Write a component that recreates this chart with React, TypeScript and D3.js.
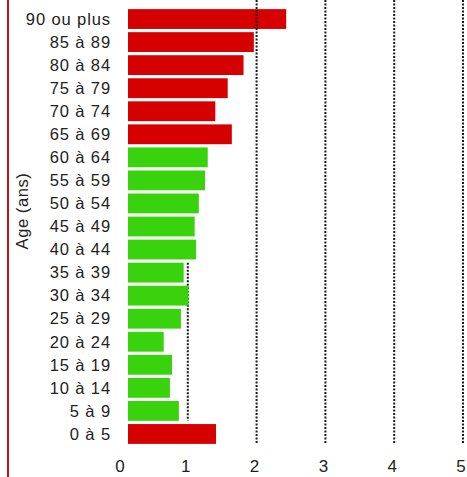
import React from "react";
import * as d3 from "d3";

const categories = [
  "90 ou plus", "85 à 89", "80 à 84", "75 à 79", "70 à 74", "65 à 69",
  "60 à 64", "55 à 59", "50 à 54", "45 à 49", "40 à 44", "35 à 39",
  "30 à 34", "25 à 29", "20 à 24", "15 à 19", "10 à 14", "5 à 9", "0 à 5",
];
const values = [
  2.43, 1.96, 1.81, 1.58, 1.40, 1.64,
  1.29, 1.25, 1.16, 1.10, 1.12, 0.94,
  1.01, 0.90, 0.65, 0.77, 0.74, 0.87, 1.41,
];
const groups = [
  "high", "high", "high", "high", "high", "high",
  "low", "low", "low", "low", "low", "low",
  "low", "low", "low", "low", "low", "low", "high",
];
const xTicks = [0, 1, 2, 3, 4, 5];
const yTitle = "Age (ans)";

const W = 467;
const H = 477;
const RED = "#d70000";
const GREEN = "#38d30c";

export default function App() {
  const x = d3.scaleLinear().domain([0, 5]).range([119, 463]);
  const y = d3
    .scaleBand<string>()
    .domain(categories)
    .range([7.5, 445.5])
    .paddingInner(0.14)
    .paddingOuter(0.07);
  const barInset = 9;
  const labelShift = -2;
  const font = "'Liberation Sans', Arial, Helvetica, sans-serif";

  const g1Top = y("35 à 39")!;
  const g1Bot = y("5 à 9")! + y.bandwidth();

  return (
    <svg
      width={W}
      height={H}
      style={{ position: "absolute", left: 0, top: 0, background: "#fff" }}
      fontFamily={font}
    >
      <rect x={0} y={0} width={W} height={H} fill="#fff" />
      {/* left red frame line */}
      <line x1={8} x2={8} y1={0} y2={H} stroke="#cc1010" strokeWidth={2} />

      {/* gridline for 1 (behind bars) */}
      <line
        x1={x(1)}
        x2={x(1)}
        y1={g1Top}
        y2={g1Bot}
        stroke="#1a1a1a"
        strokeWidth={2}
        strokeDasharray="2,1.5"
      />

      {categories.map((c, i) => (
        <rect
          key={c}
          x={x(0) + barInset}
          y={y(c)!}
          width={x(values[i]) - x(0) - barInset}
          height={y.bandwidth()}
          fill={groups[i] === "high" ? RED : GREEN}
        />
      ))}

      {xTicks
        .filter((t) => t >= 2)
        .map((t) => (
          <line
            key={t}
            x1={x(t)}
            x2={x(t)}
            y1={0}
            y2={443}
            stroke="#1a1a1a"
            strokeWidth={2}
            strokeDasharray="2,1.5"
          />
        ))}

      {categories.map((c) => (
        <text
          key={c}
          x={111}
          y={y(c)! + y.bandwidth() / 2}
          dy="0.35em"
          textAnchor="end"
          fontSize={16.5}
          letterSpacing={0.9}
          fill="#222"
        >
          {c}
        </text>
      ))}

      {xTicks.map((t) => (
        <text
          key={t}
          x={x(t) + (t === 0 ? 1 : labelShift)}
          y={466}
          dy="0.35em"
          textAnchor="middle"
          fontSize={17}
          fill="#222"
        >
          {t}
        </text>
      ))}

      <text
        transform={`translate(28, 211) rotate(-90)`}
        textAnchor="middle"
        fontSize={16.5}
        letterSpacing={0.6}
        fill="#222"
      >
        {yTitle}
      </text>
    </svg>
  );
}
